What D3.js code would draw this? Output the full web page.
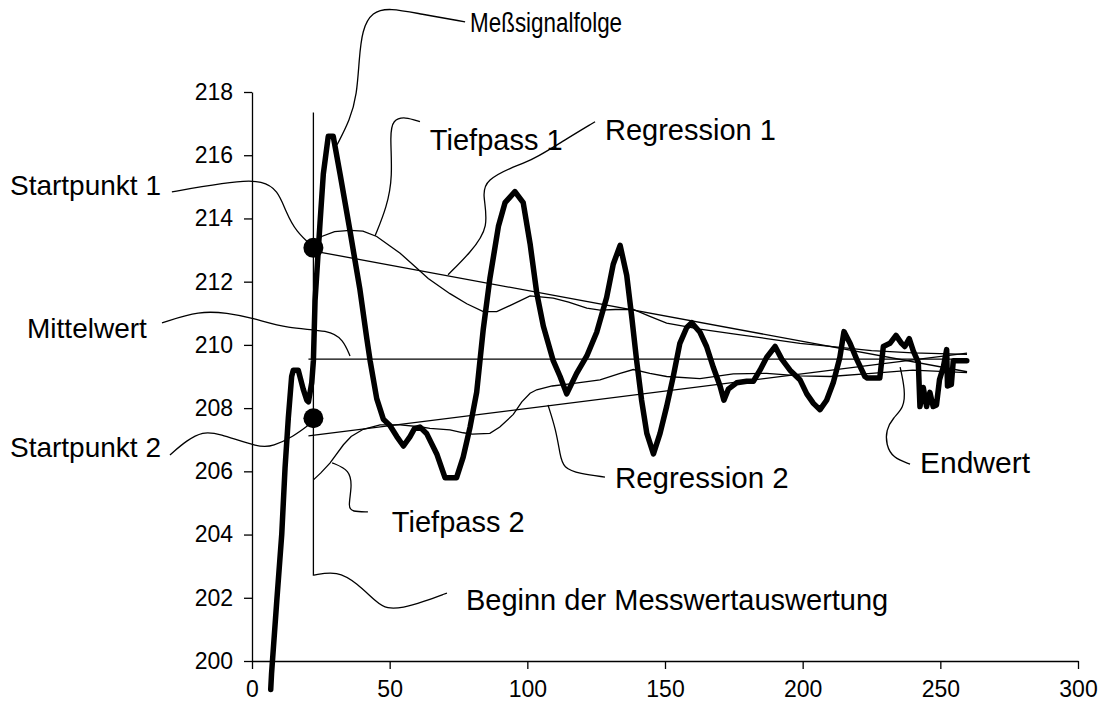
<!DOCTYPE html>
<html>
<head>
<meta charset="utf-8">
<script src="https://cdn.jsdelivr.net/npm/d3@7"></script>
<style>
  html, body { margin: 0; padding: 0; background: #fff; }
  svg { display: block; }
  text { font-family: "Liberation Sans", Arial, sans-serif; fill: #000; }
</style>
</head>
<body>
<svg id="chart" width="1104" height="708"></svg>
<script>
// ---------- data ----------
const xTicks = [0, 50, 100, 150, 200, 250, 300];
const yTicks = [200, 202, 204, 206, 208, 210, 212, 214, 216, 218];

// Meßsignalfolge (thick measured signal)
const signal = [
  [6.8,199.1],[7.1,199.6],[9.0,201.9],[10.8,204.0],[12.0,206.1],[13.2,207.7],[14.4,209.0],[15.0,209.2],
  [16.8,209.2],[18.6,208.6],[19.9,208.25],[20.5,208.2],[21.7,208.8],[22.3,209.5],[22.9,211.4],[24.7,213.85],
  [25.9,215.4],[27.7,216.6],[29.5,216.6],[32.0,215.4],[35.6,213.6],[39.2,211.75],[41.7,210.2],[42.9,209.5],
  [45.3,208.3],[47.7,207.65],[50.1,207.45],[52.6,207.1],[55.0,206.8],[57.4,207.1],[59.0,207.35],[61.0,207.4],
  [63.4,207.2],[67.1,206.55],[70.1,205.8],[74.3,205.8],[76.7,206.45],[79.2,207.4],[81.6,208.5],[84.0,210.5],
  [86.4,212.1],[89.5,213.75],[91.9,214.5],[95.5,214.85],[98.5,214.5],[101.0,213.2],[103.4,211.65],[105.8,210.6],
  [109.4,209.5],[111.9,209.0],[114.3,208.45],[117.9,209.1],[121.6,209.65],[125.2,210.4],[128.8,211.5],[131.2,212.55],
  [133.7,213.15],[136.1,212.2],[137.9,210.9],[139.7,209.5],[141.5,208.25],[143.4,207.2],[145.8,206.55],[148.2,207.2],
  [150.6,208.05],[153.0,209.0],[155.4,210.05],[157.9,210.55],[159.7,210.7],[162.7,210.4],[165.1,209.95],[167.5,209.3],
  [170.0,208.7],[171.4,208.25],[173.0,208.6],[176.0,208.8],[179.7,208.85],[182.1,208.85],[184.5,209.2],[186.9,209.6],
  [190.0,209.95],[192.4,209.55],[195.4,209.2],[199.0,208.9],[201.5,208.45],[203.9,208.15],[206.3,207.95],[208.7,208.25],
  [211.1,208.8],[213.5,209.6],[215.0,210.42],[217.2,210.05],[219.6,209.55],[222.6,209.0],[223.5,208.95],[228.0,208.95],
  [229.3,209.95],[231.7,210.05],[233.9,210.3],[235.9,210.05],[237.1,209.95],[238.7,210.2],[240.2,209.8],[242.0,209.45],
  [242.6,208.05],[243.8,208.65],[245.0,208.05],[246.2,208.5],[247.4,208.05],[248.6,208.1],[249.7,208.9],[251.1,209.3],
  [252.3,209.85],[252.6,208.7],[254.0,208.75],[254.7,209.5],[259.6,209.5]
];

const tiefpass1 = [
  [22.3,213.1],[25.3,213.43],[30.0,213.58],[35.6,213.62],[40.3,213.6],[45.3,213.43],[53.8,212.9],[59.8,212.43],
  [64.0,212.1],[71.9,211.62],[78.0,211.3],[84.0,211.05],[88.9,211.05],[95.0,211.3],[101.0,211.55],[109.4,211.48],
  [115.0,211.35],[121.6,211.16],[126.4,211.1],[132.0,211.12],[138.5,211.12],[144.5,210.9],[150.6,210.69],[162.7,210.5],
  [174.8,210.35],[186.9,210.2],[199.0,210.05],[210.0,209.95],[225.0,209.82],[240.0,209.75],[259.7,209.7]
];

const tiefpass2 = [
  [22.3,205.73],[25.0,205.95],[28.3,206.26],[33.2,206.84],[36.0,207.1],[40.4,207.33],[46.5,207.47],[53.8,207.47],
  [61.0,207.41],[64.6,207.36],[71.9,207.31],[76.7,207.22],[80.0,207.18],[86.4,207.2],[90.0,207.4],[94.9,207.8],
  [98.0,208.2],[101.0,208.47],[103.4,208.58],[109.0,208.7],[115.5,208.77],[121.0,208.83],[126.4,208.89],[133.7,209.1],
  [138.5,209.22],[144.5,209.1],[150.6,209.0],[162.7,208.93],[174.8,209.08],[186.9,209.1],[199.0,209.02],[210.0,209.0],
  [225.0,209.1],[240.0,209.2],[259.7,209.12]
];

const regression1 = [[20.5,213.0],[259.7,209.15]];
const regression2 = [[20.5,207.12],[259.7,209.74]];
const mittelwert  = [[20.5,209.55],[259.7,209.55]];
const beginn      = [[22.3,202.7],[22.3,217.35]];
const startpunkte = [[22.3,213.07],[22.3,207.68]];

// annotation texts and leader lines (in data units)
const labels = [
  {text:"Meßsignalfolge", at:[79.2,219.91], size:27, len:152,
   leader:[[30.9,216.33],[35.6,217.12],[38.1,217.91],[38.9,219.02],[40.0,219.97],[43.6,220.54],[50.1,220.66],[61.0,220.47],[77.4,220.22]]},
  {text:"Tiefpass 1", at:[64.6,216.17], size:29,
   leader:[[44.7,213.45],[49.0,214.37],[51.1,215.32],[50.1,216.65],[51.1,217.12],[55.6,217.22],[61.0,217.06]]},
  {text:"Regression 1", at:[128.2,216.49], size:29,
   leader:[[71.2,212.22],[79.2,212.91],[86.4,213.73],[83.5,214.81],[85.4,215.22],[93.7,215.6],[102.1,215.85],[113.7,216.49],[124.6,217.06]]},
  {text:"Startpunkt 1", at:[-87.9,214.75], size:28,
   leader:[[-29.1,214.84],[-18.9,215.0],[-4.4,215.19],[3.6,215.19],[9.4,214.9],[12.3,214.21],[16.0,213.58],[22.2,213.1]]},
  {text:"Mittelwert", at:[-81.7,210.22], size:28,
   leader:[[-32.7,210.7],[-18.9,211.08],[-9.1,211.01],[0.4,210.85],[12.7,210.51],[28.3,210.47],[33.1,210.16],[35.6,209.65]]},
  {text:"Startpunkt 2", at:[-87.9,206.46], size:28,
   leader:[[-29.8,206.52],[-23.6,206.99],[-17.8,207.25],[-12.7,207.22],[2.9,206.74],[7.6,206.8],[14.9,207.09],[21.1,207.5]]},
  {text:"Tiefpass 2", at:[50.8,204.08], size:29,
   leader:[[29.1,206.27],[35.6,206.04],[36.3,205.51],[34.9,204.87],[36.3,204.72],[42.1,204.72]]},
  {text:"Beginn der Messwertauswertung", at:[77.7,201.61], size:29,
   leader:[[22.5,202.72],[30.9,202.85],[38.1,202.47],[45.4,201.84],[49.0,201.65],[54.8,201.68],[62.1,201.87],[70.8,202.15]]},
  {text:"Regression 2", at:[131.8,205.47], size:29.5,
   leader:[[107.5,208.1],[110.4,207.31],[111.9,206.52],[113.0,206.11],[119.1,205.92],[128.2,205.82]]},
  {text:"Endwert", at:[242.6,205.95], size:30,
   leader:[[235.4,209.3],[237.2,208.58],[236.8,208.01],[232.8,207.69],[230.3,207.31],[230.3,206.84],[232.8,206.42],[239.0,206.23]]}
];

// ---------- drawing ----------
const svg = d3.select("#chart");
const x = d3.scaleLinear().domain([0, 300]).range([252, 1078]);
const y = d3.scaleLinear().domain([200, 218]).range([661, 92]);

const line = d3.line().x(d => x(d[0])).y(d => y(d[1]));
const smooth = d3.line().x(d => x(d[0])).y(d => y(d[1])).curve(d3.curveBasis);

// axes
const yAxis = svg.append("g").attr("transform", `translate(${x(0)},0)`)
  .call(d3.axisLeft(y).tickValues(yTicks).tickSize(8).tickSizeOuter(0).tickPadding(11).tickFormat(d3.format("d")));
const xAxis = svg.append("g").attr("transform", `translate(0,${y(200)})`)
  .call(d3.axisBottom(x).tickValues(xTicks).tickSize(8).tickSizeOuter(0).tickPadding(12).tickFormat(d3.format("d")));
[xAxis, yAxis].forEach(g => {
  g.selectAll("path.domain").attr("stroke", "#000").attr("stroke-width", 1.3);
  g.selectAll(".tick line").attr("stroke", "#000").attr("stroke-width", 1.3);
  g.selectAll(".tick text").attr("font-size", 23).attr("font-family", "Liberation Sans, Arial, sans-serif").attr("fill", "#000");
});

// thin lines
const thin = [regression1, regression2, mittelwert, tiefpass1, tiefpass2, beginn];
svg.append("g").selectAll("path").data(thin).join("path")
  .attr("d", line).attr("fill", "none").attr("stroke", "#000").attr("stroke-width", 1.3);

// signal
svg.append("path").datum(signal).attr("d", line)
  .attr("fill", "none").attr("stroke", "#000").attr("stroke-width", 5.5)
  .attr("stroke-linejoin", "round").attr("stroke-linecap", "round");

// start points
svg.append("g").selectAll("circle").data(startpunkte).join("circle")
  .attr("cx", d => x(d[0])).attr("cy", d => y(d[1])).attr("r", 10).attr("fill", "#000");

// annotations
const ann = svg.append("g");
ann.selectAll("path").data(labels).join("path")
  .attr("d", d => smooth(d.leader)).attr("fill", "none").attr("stroke", "#000").attr("stroke-width", 1.3);
ann.selectAll("text").data(labels).join("text")
  .attr("x", d => x(d.at[0])).attr("y", d => y(d.at[1]))
  .attr("font-size", d => d.size)
  .each(function(d) { if (d.len) d3.select(this).attr("textLength", d.len).attr("lengthAdjust", "spacingAndGlyphs"); })
  .text(d => d.text);
</script>
</body>
</html>
